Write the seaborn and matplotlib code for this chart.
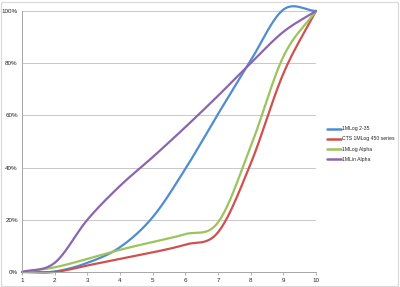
import numpy as np
import pandas as pd
import matplotlib
matplotlib.use("Agg")
import matplotlib.pyplot as plt
import seaborn as sns
from matplotlib.ticker import PercentFormatter

x_vals = [1, 2, 3, 4, 5, 6, 7, 8, 9, 10]
series_names = ["1MLog 2-35", "CTS 1MLog 450 series", "1MLog Alpha", "1MLin Alpha"]
blue = [0.0, 0.002, 0.035, 0.095, 0.21, 0.395, 0.605, 0.81, 1.005, 1.0]
red = [0.0, 0.0, 0.025, 0.05, 0.075, 0.105, 0.152, 0.415, 0.76, 1.0]
green = [0.0, 0.018, 0.05, 0.085, 0.115, 0.145, 0.19, 0.48, 0.825, 1.0]
purple = [0.0, 0.035, 0.20, 0.33, 0.44, 0.555, 0.675, 0.80, 0.92, 1.0]
colors = ["#4E8DD2", "#D0504D", "#9CC35C", "#8A66B0"]
y_ticks = [0, 0.2, 0.4, 0.6, 0.8, 1.0]


def smooth(xs, ys, n=40):
    # Excel-style smoothed line (Catmull-Rom / Bezier through the data points)
    xs = np.asarray(xs, float)
    ys = np.asarray(ys, float)
    px = np.concatenate([[2 * xs[0] - xs[1]], xs, [2 * xs[-1] - xs[-2]]])
    py = np.concatenate([[2 * ys[0] - ys[1]], ys, [2 * ys[-1] - ys[-2]]])
    ox, oy = [], []
    t = np.linspace(0, 1, n, endpoint=False)
    for i in range(1, len(px) - 2):
        p0x, p1x, p2x, p3x = px[i - 1:i + 3]
        p0y, p1y, p2y, p3y = py[i - 1:i + 3]
        c1x, c1y = p1x + (p2x - p0x) / 6, p1y + (p2y - p0y) / 6
        c2x, c2y = p2x - (p3x - p1x) / 6, p2y - (p3y - p1y) / 6
        bx = (1 - t) ** 3 * p1x + 3 * (1 - t) ** 2 * t * c1x + 3 * (1 - t) * t ** 2 * c2x + t ** 3 * p2x
        by = (1 - t) ** 3 * p1y + 3 * (1 - t) ** 2 * t * c1y + 3 * (1 - t) * t ** 2 * c2y + t ** 3 * p2y
        ox.extend(bx)
        oy.extend(by)
    ox.append(xs[-1])
    oy.append(ys[-1])
    return np.array(ox), np.array(oy)


frames = []
for name, ys in zip(series_names, [blue, red, green, purple]):
    sx, sy = smooth(x_vals, ys)
    frames.append(pd.DataFrame({"x": sx, "y": sy, "series": name}))
df = pd.concat(frames, ignore_index=True)

sns.set_theme(style="white")
plt.rcParams["font.family"] = ["Liberation Sans", "DejaVu Sans"]

fig = plt.figure(figsize=(4.0, 2.87), dpi=100)
ax = fig.add_axes([0.055, 0.0523, 0.735, 0.9094])

sns.lineplot(data=df, x="x", y="y", hue="series", hue_order=series_names,
             palette=colors, sort=False, estimator=None, units="series",
             linewidth=1.6, ax=ax, legend=True)
for ln in ax.get_lines():
    ln.set_clip_on(False)

ax.set_xlim(1, 10)
ax.set_ylim(0, 1.0)
ax.set_xticks(x_vals)
ax.set_yticks(y_ticks)
ax.yaxis.set_major_formatter(PercentFormatter(1.0, decimals=0))
ax.grid(axis="y", color="#C8C8C8", linewidth=0.7)
ax.grid(axis="x", visible=False)
ax.set_axisbelow(True)
for s in ["top", "right"]:
    ax.spines[s].set_visible(False)
for s in ["left", "bottom"]:
    ax.spines[s].set_color("#A6A6A6")
    ax.spines[s].set_linewidth(0.7)
ax.tick_params(axis="x", length=2.5, width=0.6, color="#A6A6A6", labelsize=4.5, pad=2, direction="out", bottom=True)
ax.tick_params(axis="y", length=0, labelsize=4.5, pad=3)
ax.set_xlabel("")
ax.set_ylabel("")

handles, labels = ax.get_legend_handles_labels()
leg = ax.legend(handles, labels, loc="upper left", bbox_to_anchor=(1.03, 0.566),
                frameon=False, fontsize=3.7, handlelength=2.7, handletextpad=0.15,
                labelspacing=1.0, borderaxespad=0)
for line in leg.get_lines():
    line.set_linewidth(1.8)

fig.patches.append(plt.Rectangle((0.003, 0.004), 0.993, 0.99, transform=fig.transFigure,
                                 fill=False, edgecolor="#D9D9D9", linewidth=0.8))

fig.savefig("out.png", dpi=100)
